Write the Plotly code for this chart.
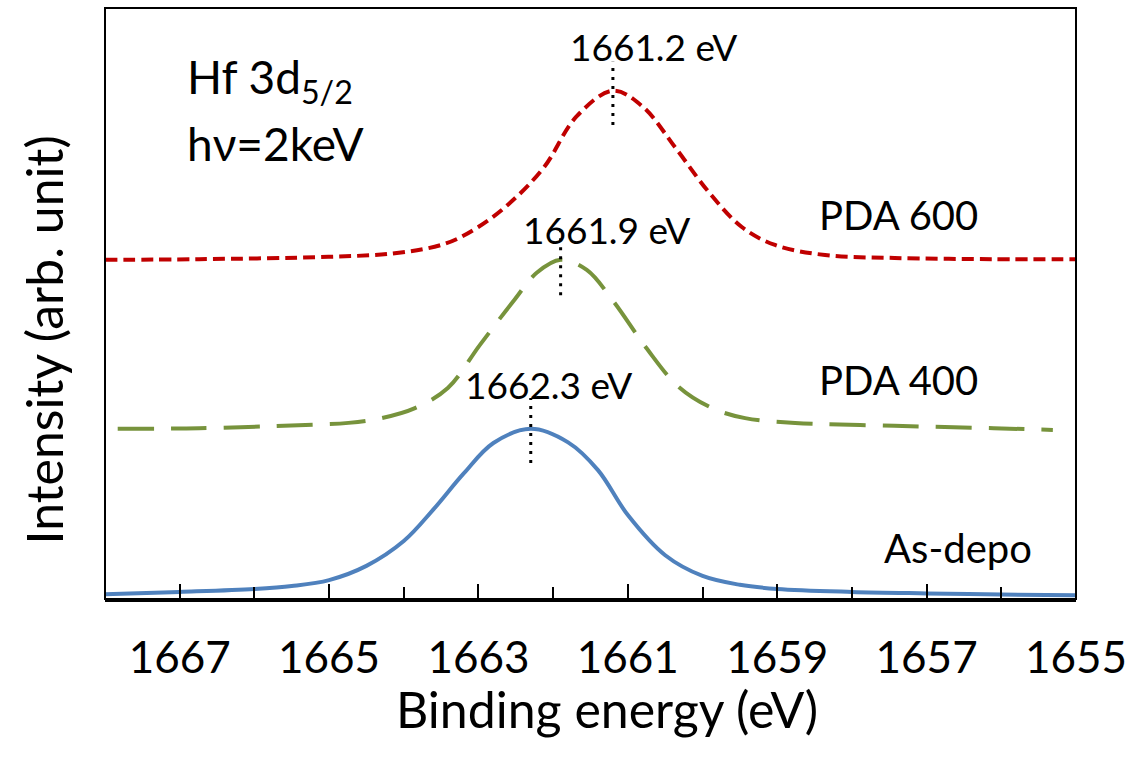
import plotly.graph_objects as go

# Hf 3d5/2 core-level spectra (hv = 2 keV), stacked with offsets
asdepo_be = [1668.00, 1667.00, 1666.00, 1665.50, 1665.00, 1664.50, 1664.00, 1663.60,
             1663.20, 1662.80, 1662.30, 1661.80, 1661.40, 1661.00, 1660.50, 1660.00,
             1659.50, 1659.00, 1658.00, 1657.00, 1656.00, 1655.00]
asdepo_int = [0.8, 1.2, 1.7, 2.2, 3.2, 5.6, 9.8, 15.2,
              21.2, 26.4, 28.8, 26.5, 21.8, 14.2, 7.4, 3.9,
              2.4, 1.7, 1.2, 0.95, 0.75, 0.65]

pda400_be = [1667.83, 1666.74, 1665.41, 1664.74, 1664.30, 1663.85, 1663.41, 1662.98,
             1662.52, 1662.22, 1661.90, 1661.55, 1661.19, 1660.76, 1660.32, 1659.87,
             1659.43, 1658.76, 1657.43, 1656.10, 1655.31]
pda400_int = [28.8, 28.9, 29.4, 29.8, 30.6, 32.3, 35.7, 43.0,
              50.6, 55.2, 57.4, 55.7, 50.3, 42.6, 35.9, 32.3,
              30.6, 29.8, 29.3, 28.9, 28.6]

pda600_be = [1668.00, 1666.74, 1665.01, 1664.12, 1663.45, 1663.02, 1662.58, 1662.12,
             1661.69, 1661.20, 1660.80, 1660.36, 1659.92, 1659.47, 1659.03, 1658.36,
             1657.43, 1656.10, 1655.00]
pda600_int = [57.4, 57.5, 57.9, 58.5, 60.1, 62.8, 67.0, 73.1,
              81.6, 86.0, 83.3, 76.3, 68.9, 62.9, 59.9, 58.2,
              57.7, 57.5, 57.5]

# Peak positions (eV) and the extent of the dotted marker lines (intensity)
peak_be = [1662.3, 1661.9, 1661.2]
marker_lo = [23.0, 51.4, 80.2]
marker_hi = [34.0, 62.4, 90.9]

sample_names = ["As-depo", "PDA 400", "PDA 600"]
x_tickvals = [1667, 1665, 1663, 1661, 1659, 1657, 1655]

FONT = "Lato"
W, H = 1135, 757
L, R, T, B = 105, 1083, 8, 599


def px(xp):
    return (xp - L) / (R - L)


def py(yp):
    return (B - yp) / (B - T)


fig = go.Figure()

fig.add_trace(go.Scatter(x=pda600_be, y=pda600_int, mode="lines",
                         line=dict(color="#C00000", width=4, dash="12px,6px",
                                   shape="spline", smoothing=1.0)))
fig.add_trace(go.Scatter(x=pda400_be, y=pda400_int, mode="lines",
                         line=dict(color="#77933C", width=4, dash="36px,17px",
                                   shape="spline", smoothing=1.0)))
fig.add_trace(go.Scatter(x=asdepo_be, y=asdepo_int, mode="lines",
                         line=dict(color="#4F81BD", width=4,
                                   shape="spline", smoothing=1.0)))

# dotted markers at each peak
for be, lo, hi in zip(peak_be, marker_lo, marker_hi):
    fig.add_trace(go.Scatter(x=[be, be], y=[lo, hi], mode="lines",
                             line=dict(color="black", width=3, dash="3px,6px")))

# peak-energy labels
peak_label_pos = [(552, 384), (610, 229), (657, 47)]
for be, (xp, yp) in zip(peak_be, peak_label_pos):
    fig.add_annotation(x=px(xp), y=py(yp), xref="paper", yref="paper",
                       text=f"{be:.1f} eV", showarrow=False,
                       font=dict(family=FONT, size=37, color="black"),
                       xanchor="center", yanchor="middle")

# sample names
name_pos = [(964, 548), (904, 380), (904, 215)]
for name, (xp, yp) in zip(sample_names, name_pos):
    fig.add_annotation(x=px(xp), y=py(yp), xref="paper", yref="paper",
                       text=name, showarrow=False,
                       font=dict(family=FONT, size=40, color="black"),
                       xanchor="center", yanchor="middle")

fig.add_annotation(x=px(186), y=py(80), xref="paper", yref="paper",
                   text="Hf 3d<sub>5/2</sub>", showarrow=False,
                   font=dict(family=FONT, size=46, color="black"),
                   xanchor="left", yanchor="middle")
fig.add_annotation(x=px(186), y=py(143), xref="paper", yref="paper",
                   text="hν=2keV", showarrow=False,
                   font=dict(family=FONT, size=46, color="black"),
                   xanchor="left", yanchor="middle")

# axis titles
fig.add_annotation(x=px(611), y=py(709), xref="paper", yref="paper",
                   text="Binding energy (eV)", showarrow=False,
                   font=dict(family=FONT, size=50, color="black"),
                   xanchor="center", yanchor="middle")
fig.add_annotation(x=px(44), y=py(340), xref="paper", yref="paper",
                   text="Intensity (arb. unit)", showarrow=False, textangle=-90,
                   font=dict(family=FONT, size=50, color="black"),
                   xanchor="center", yanchor="middle")

# plot frame
fig.add_shape(type="rect", xref="paper", yref="paper", x0=0, x1=1, y0=0, y1=1,
              line=dict(color="black", width=2), layer="above")

fig.update_layout(
    width=W, height=H,
    margin=dict(l=L, r=W - R, t=T, b=H - B),
    paper_bgcolor="white", plot_bgcolor="white",
    showlegend=False,
    xaxis=dict(range=[1668, 1655], tickvals=x_tickvals,
               ticks="inside", ticklen=15, tickwidth=2, tickcolor="black",
               minor=dict(dtick=1, tick0=1655, ticks="inside", ticklen=12,
                          tickwidth=2, tickcolor="black"),
               showline=True, linecolor="black", linewidth=3,
               showgrid=False, zeroline=False,
               ticklabelstandoff=18,
               tickfont=dict(family=FONT, size=44, color="black")),
    yaxis=dict(range=[0, 100], showticklabels=False, ticks="",
               showgrid=False, zeroline=False, showline=False),
)

fig.write_html("out.html")
